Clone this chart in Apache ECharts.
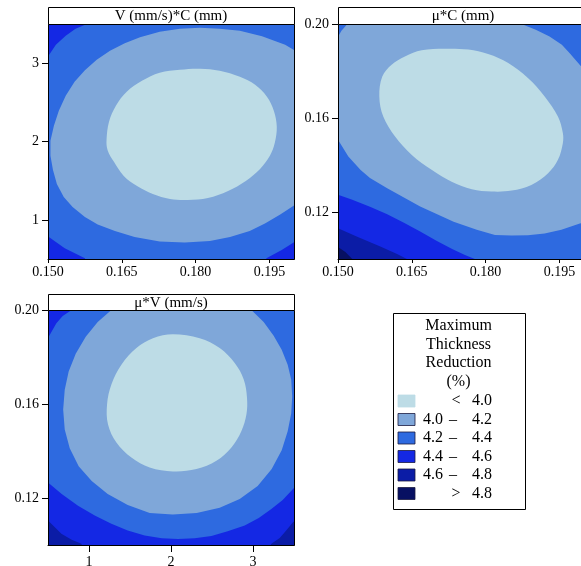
<!DOCTYPE html>
<html><head><meta charset="utf-8">
<script src="https://cdn.jsdelivr.net/npm/echarts@6/dist/echarts.min.js"></script>
<style>html,body{margin:0;padding:0;background:#fff}#c{width:581px;height:566px}</style>
</head><body><div id="c"></div>
<script>
// ---------- legend / levels ----------
const LEVEL_LOW  = [null, 4.0, 4.2, 4.4, 4.6, 4.8];
const LEVEL_HIGH = [4.0, 4.2, 4.4, 4.6, 4.8, null];
const LEVEL_COLORS = ['#bddce6', '#7fa7d9', '#2e6ae0', '#1428e4', '#0b1ca6', '#071062'];
const LEGEND_TITLE = ['Maximum', 'Thickness', 'Reduction', '(%)'];

// ---------- panel titles & ticks ----------
const PANEL_TITLES = ['V (mm/s)*C (mm)', 'μ*C (mm)', 'μ*V (mm/s)'];
const X_TICKS_FRICTION = [0.150, 0.165, 0.180, 0.195];
const X_TICK_LABELS_FRICTION = ['0.150', '0.165', '0.180', '0.195'];
const TICKS_SPEED = [1, 2, 3];
const TICK_LABELS_SPEED = ['1', '2', '3'];
const TICKS_CLEAR = [0.12, 0.16, 0.20];
const TICK_LABELS_CLEAR = ['0.12', '0.16', '0.20'];

// ---------- contour boundaries ----------
// Panel 1: x = friction (mu), y = V (mm/s)   -- background level index 2
const p1Inner = [[0.1619,2.021],[0.1624,2.251],[0.1638,2.456],[0.1660,2.635],[0.1691,2.775],[0.1727,2.878],[0.1768,2.916],[0.1809,2.929],[0.1849,2.903],[0.1890,2.826],[0.1921,2.724],[0.1945,2.571],[0.1959,2.392],[0.1965,2.187],[0.1961,1.983],[0.1951,1.817],[0.1931,1.650],[0.1902,1.497],[0.1866,1.369],[0.1825,1.280],[0.1784,1.254],[0.1748,1.267],[0.1713,1.331],[0.1681,1.433],[0.1654,1.561],[0.1634,1.740],[0.1621,1.893]];
const p1Mid = [[0.2012,3.133],[0.2002,3.159],[0.1982,3.235],[0.1935,3.344],[0.1890,3.414],[0.1849,3.440],[0.1809,3.453],[0.1768,3.440],[0.1727,3.402],[0.1687,3.331],[0.1656,3.255],[0.1626,3.159],[0.1599,3.044],[0.1575,2.909],[0.1554,2.762],[0.1536,2.584],[0.1522,2.392],[0.1512,2.200],[0.1505,2.008],[0.1505,1.817],[0.1510,1.638],[0.1518,1.459],[0.1532,1.293],[0.1550,1.165],[0.1575,1.037],[0.1601,0.941],[0.1636,0.858],[0.1676,0.781],[0.1727,0.724],[0.1778,0.711],[0.1829,0.730],[0.1870,0.781],[0.1910,0.858],[0.1941,0.954],[0.1972,1.069],[0.2002,1.190],[0.2012,1.241]];
const p1CornerTL = [[0.1483,3.044],[0.1500,3.086],[0.1516,3.235],[0.1536,3.350],[0.1556,3.440],[0.1579,3.500],[0.1585,3.610],[0.1483,3.610]];
const p1CornerBL = [[0.1483,0.845],[0.1501,0.785],[0.1534,0.637],[0.1575,0.509],[0.1581,0.410],[0.1483,0.410]];
const p1CornerBR = [[0.1939,0.410],[0.1944,0.509],[0.1975,0.615],[0.2002,0.721],[0.2016,0.768],[0.2016,0.410]];

// Panel 2: x = friction (mu), y = clearance C (mm)
const p2Inner = [[0.1584,0.1692],[0.1590,0.1777],[0.1609,0.1827],[0.1636,0.1862],[0.1670,0.1888],[0.1717,0.1895],[0.1765,0.1891],[0.1805,0.1872],[0.1846,0.1834],[0.1886,0.1770],[0.1920,0.1692],[0.1947,0.1606],[0.1957,0.1536],[0.1957,0.1493],[0.1947,0.1422],[0.1927,0.1365],[0.1893,0.1315],[0.1853,0.1291],[0.1812,0.1287],[0.1772,0.1297],[0.1731,0.1329],[0.1691,0.1379],[0.1650,0.1443],[0.1616,0.1521],[0.1592,0.1606]];
const p2Mid = [[0.1488,0.1942],[0.1500,0.1946],[0.1507,0.1971],[0.1519,0.2000],[0.1523,0.2027],[0.1872,0.2027],[0.1873,0.2000],[0.1902,0.1976],[0.1930,0.1947],[0.1955,0.1912],[0.1971,0.1876],[0.1993,0.1822],[0.2011,0.1788],[0.2011,0.1141],[0.1993,0.1152],[0.1954,0.1124],[0.1920,0.1109],[0.1886,0.1101],[0.1853,0.1100],[0.1819,0.1102],[0.1782,0.1124],[0.1735,0.1159],[0.1667,0.1223],[0.1600,0.1301],[0.1565,0.1345],[0.1546,0.1379],[0.1521,0.1436],[0.1500,0.1507],[0.1488,0.1541]];
const p2Band44 = [[0.1488,0.1281],[0.1500,0.1273],[0.1529,0.1252],[0.1565,0.1222],[0.1600,0.1190],[0.1634,0.1154],[0.1667,0.1117],[0.1701,0.1077],[0.1732,0.1043],[0.1758,0.1017],[0.1778,0.1000],[0.1784,0.0975],[0.1488,0.0975]];
const p2Band46 = [[0.1488,0.1141],[0.1500,0.1131],[0.1539,0.1095],[0.1586,0.1053],[0.1620,0.1021],[0.1640,0.1000],[0.1647,0.0975],[0.1488,0.0975]];
const p2Band48 = [[0.1488,0.1060],[0.1500,0.1051],[0.1515,0.1030],[0.1529,0.1000],[0.1533,0.0975],[0.1488,0.0975]];

// Panel 3: x = V (mm/s), y = friction (mu)
const p3Inner = [[2.024,0.1897],[2.350,0.1880],[2.594,0.1838],[2.777,0.1774],[2.887,0.1704],[2.927,0.1626],[2.920,0.1556],[2.859,0.1485],[2.737,0.1415],[2.554,0.1358],[2.310,0.1323],[2.024,0.1313],[1.740,0.1330],[1.517,0.1372],[1.334,0.1436],[1.232,0.1513],[1.220,0.1598],[1.273,0.1683],[1.395,0.1767],[1.578,0.1838],[1.780,0.1880]];
const p3Mid = [[1.301,0.2025],[2.948,0.2025],[2.980,0.2000],[3.130,0.1949],[3.252,0.1890],[3.350,0.1831],[3.423,0.1767],[3.466,0.1704],[3.478,0.1632],[3.466,0.1560],[3.423,0.1484],[3.350,0.1403],[3.228,0.1323],[3.057,0.1251],[2.838,0.1196],[2.594,0.1158],[2.313,0.1136],[2.021,0.1130],[1.740,0.1136],[1.472,0.1170],[1.228,0.1217],[1.033,0.1272],[0.874,0.1335],[0.765,0.1412],[0.704,0.1492],[0.685,0.1577],[0.704,0.1661],[0.752,0.1738],[0.838,0.1814],[0.960,0.1886],[1.106,0.1949],[1.273,0.2000]];
const p3TopLeft44 = [[0.423,0.1873],[0.500,0.1881],[0.602,0.1944],[0.679,0.1975],[0.789,0.2000],[0.826,0.2025],[0.423,0.2025]];
const p3Bottom44 = [[0.423,0.1276],[0.500,0.1266],[0.667,0.1217],[0.866,0.1167],[1.070,0.1126],[1.273,0.1090],[1.472,0.1062],[1.679,0.1040],[1.887,0.1029],[2.085,0.1026],[2.289,0.1029],[2.493,0.1038],[2.691,0.1058],[2.899,0.1083],[3.070,0.1115],[3.224,0.1153],[3.362,0.1192],[3.488,0.1238],[3.570,0.1268],[3.570,0.0976],[0.423,0.0976]];
const p3BL46 = [[0.423,0.1115],[0.500,0.1104],[0.663,0.1048],[0.789,0.1022],[0.907,0.1005],[0.935,0.0976],[0.423,0.0976]];
const p3BR46 = [[3.179,0.0976],[3.224,0.1005],[3.326,0.1030],[3.400,0.1060],[3.488,0.1097],[3.570,0.1120],[3.570,0.0976]];

// ---------- layout ----------
const FONT = 'Liberation Serif';
const GRIDS = [
  {left: 48, top: 24, width: 246, height: 235},
  {left: 338, top: 24, width: 246, height: 235},
  {left: 48, top: 310, width: 246, height: 235}
];
const BANDS = [
  {x: 48, y: 7, w: 246, h: 17},
  {x: 338, y: 7, w: 250, h: 17},
  {x: 48, y: 294, w: 246, h: 16}
];

// shapes: [points, level index, closed-curve smoothing]
const panels = [
  {bg: 2, x: [0.15, 0.20, X_TICKS_FRICTION, X_TICK_LABELS_FRICTION], y: [0.5, 3.5, TICKS_SPEED, TICK_LABELS_SPEED],
   shapes: [[p1CornerTL,3,0],[p1CornerBL,3,0],[p1CornerBR,3,0],[p1Mid,1,0],[p1Inner,0,0.35]], xTickLen: 4, xMargin: 6},
  {bg: 2, x: [0.15, 0.20, X_TICKS_FRICTION, X_TICK_LABELS_FRICTION], y: [0.10, 0.20, TICKS_CLEAR, TICK_LABELS_CLEAR],
   shapes: [[p2Band44,3,0],[p2Band46,4,0],[p2Band48,5,0],[p2Mid,1,0],[p2Inner,0,0.35]], xTickLen: 4, xMargin: 6},
  {bg: 2, x: [0.5, 3.5, TICKS_SPEED, TICK_LABELS_SPEED], y: [0.10, 0.20, TICKS_CLEAR, TICK_LABELS_CLEAR],
   shapes: [[p3TopLeft44,3,0],[p3Bottom44,3,0],[p3BL46,4,0],[p3BR46,4,0],[p3Mid,1,0],[p3Inner,0,0.35]], xTickLen: 7, xMargin: 10}
];

function labelFor(ticks, labels) {
  return v => { let best = 0; ticks.forEach((t, i) => { if (Math.abs(t - v) < Math.abs(ticks[best] - v)) best = i; }); return labels[best]; };
}

const grid = [], xAxis = [], yAxis = [], series = [], graphic = [];
panels.forEach((p, i) => {
  grid.push(Object.assign({show: true, backgroundColor: LEVEL_COLORS[p.bg], borderWidth: 0, containLabel: false, outerBoundsMode: 'none'}, GRIDS[i]));
  xAxis.push({type: 'value', gridIndex: i, min: p.x[0], max: p.x[1],
    axisLine: {show: true, onZero: false, lineStyle: {color: '#000', width: 1}},
    axisTick: {show: true, length: p.xTickLen, customValues: p.x[2], lineStyle: {color: '#000'}},
    axisLabel: {customValues: p.x[2], formatter: labelFor(p.x[2], p.x[3]), color: '#000', fontFamily: FONT, fontSize: 14, margin: p.xMargin},
    splitLine: {show: false}});
  yAxis.push({type: 'value', gridIndex: i, min: p.y[0], max: p.y[1],
    axisLine: {show: true, onZero: false, lineStyle: {color: '#000', width: 1}},
    axisTick: {show: true, length: 6, customValues: p.y[2], lineStyle: {color: '#000'}},
    axisLabel: {customValues: p.y[2], formatter: labelFor(p.y[2], p.y[3]), color: '#000', fontFamily: FONT, fontSize: 14, margin: 9},
    splitLine: {show: false}});
  p.shapes.forEach(([pts, lvl, sm], k) => {
    series.push({type: 'custom', xAxisIndex: i, yAxisIndex: i, clip: true, silent: true, z: 2 + k,
      data: pts,
      renderItem: (params, api) => {
        if (params.dataIndex !== 0) return null;
        return {type: 'polygon', shape: {points: pts.map(d => api.coord(d)), smooth: sm}, style: {fill: LEVEL_COLORS[lvl]}};
      }});
  });
  const g = GRIDS[i];
  graphic.push({type: 'rect', z: 100, shape: {x: g.left + 0.5, y: g.top + 0.5, width: g.width, height: g.height},
    style: {fill: null, stroke: '#000', lineWidth: 1}});
  const b = BANDS[i];
  graphic.push({type: 'rect', z: 100, shape: {x: b.x + 0.5, y: b.y + 0.5, width: b.w, height: b.h},
    style: {fill: '#fff', stroke: '#000', lineWidth: 1}});
  graphic.push({type: 'text', z: 101, x: b.x + b.w / 2, y: b.y + b.h / 2 + 1,
    style: {text: PANEL_TITLES[i], fill: '#000', font: '15px "' + FONT + '"', align: 'center', verticalAlign: 'middle'}});
});

// legend box
const LG = {x: 393, y: 313, w: 132, h: 196, cx: 458.5, row0: 326, step: 18.5};
graphic.push({type: 'rect', z: 100, shape: {x: LG.x + 0.5, y: LG.y + 0.5, width: LG.w, height: LG.h}, style: {fill: '#fff', stroke: '#000', lineWidth: 1}});
LEGEND_TITLE.forEach((t, i) => graphic.push({type: 'text', z: 101, x: LG.cx, y: LG.row0 + i * LG.step,
  style: {text: t, fill: '#000', font: '16px "' + FONT + '"', align: 'center', verticalAlign: 'middle'}}));
LEVEL_COLORS.forEach((c, k) => {
  const cy = LG.row0 + (LEGEND_TITLE.length + k) * LG.step + 1;
  graphic.push({type: 'rect', z: 101, shape: {x: 398, y: cy - 6, width: 17, height: 12}, style: {fill: c, stroke: k === 0 ? c : '#1a1a40', lineWidth: 0.8}});
  const txt = (s, x, align) => graphic.push({type: 'text', z: 101, x: x, y: cy,
    style: {text: s, fill: '#000', font: '16px "' + FONT + '"', align: align, verticalAlign: 'middle'}});
  if (LEVEL_LOW[k] === null) { txt('<', 456, 'center'); txt(LEVEL_HIGH[k].toFixed(1), 492, 'right'); }
  else if (LEVEL_HIGH[k] === null) { txt('>', 456, 'center'); txt(LEVEL_LOW[k].toFixed(1), 492, 'right'); }
  else { txt(LEVEL_LOW[k].toFixed(1), 443, 'right'); txt('–', 453, 'center'); txt(LEVEL_HIGH[k].toFixed(1), 492, 'right'); }
});

const chart = echarts.init(document.getElementById('c'), null, {renderer: 'canvas'});
chart.setOption({animation: false, backgroundColor: '#fff', grid, xAxis, yAxis, series, graphic});
</script></body></html>
